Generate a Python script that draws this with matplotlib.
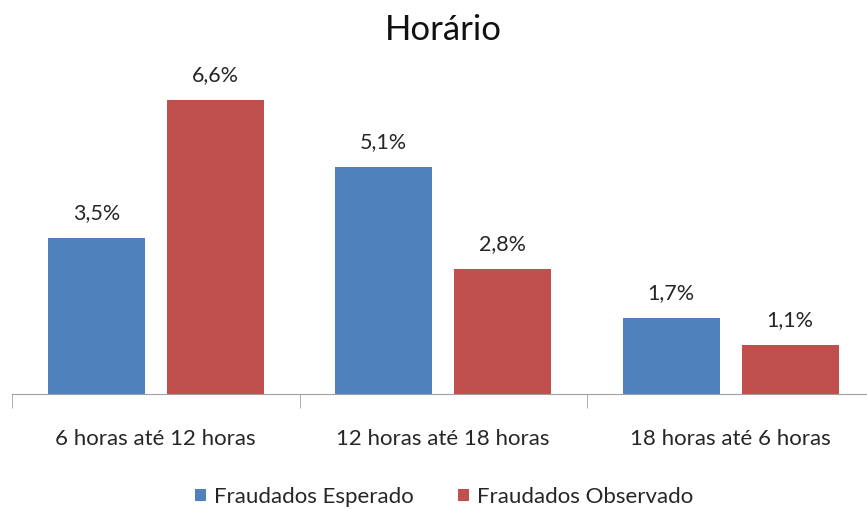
import matplotlib
matplotlib.use("Agg")
import matplotlib.pyplot as plt
import numpy as np

categories = ["6 horas até 12 horas", "12 horas até 18 horas", "18 horas até 6 horas"]
esperado = [3.5, 5.1, 1.7]
observado = [6.6, 2.8, 1.1]
series_names = ["Fraudados Esperado", "Fraudados Observado"]
title = "Horário"

plt.rcParams['font.family'] = ['Lato', 'DejaVu Sans']

W, H = 867, 509
fig = plt.figure(figsize=(W/100, H/100), dpi=100)
ax = fig.add_axes([12/W, 1 - 394/H, 862.5/W, 334/H])

blue = "#4F81BD"
red = "#C0504D"
txt = "#262626"
x = np.arange(len(categories))
bw = 0.337
off = 0.207
b1 = ax.bar(x - off, esperado, bw, color=blue, label=series_names[0])
b2 = ax.bar(x + off, observado, bw, color=red, label=series_names[1])

for bars, vals in ((b1, esperado), (b2, observado)):
    for r, v in zip(bars, vals):
        ax.annotate(f"{v:.1f}%".replace(".", ","), (r.get_x() + r.get_width()/2, v),
                    xytext=(0, 11), textcoords="offset points", ha="center", va="bottom",
                    fontsize=15.5, color=txt)

ax.set_xlim(-0.5, len(categories) - 0.5)
ax.set_ylim(0, 7.5)
ax.set_yticks([])
for s in ["top", "right", "left"]:
    ax.spines[s].set_visible(False)
ax.spines["bottom"].set_color("#a0a0a0")
ax.set_xticks(np.arange(len(categories) + 1) - 0.5, minor=True)
ax.tick_params(axis="x", which="minor", length=10, color="#a0a0a0", direction="out")
ax.tick_params(axis="x", which="major", length=0, pad=25, labelsize=16, labelcolor=txt)
ax.set_xticks(x)
ax.set_xticklabels(categories)

fig.text(443/W, 1 - 30/H, title, ha="center", va="center", fontsize=25, color="#111111")

fig.legend(handles=[b1, b2], labels=series_names, loc="center", bbox_to_anchor=(444/W, 1 - 497/H),
           ncol=2, frameon=False, fontsize=16, handlelength=0.5, handleheight=0.5,
           handletextpad=0.36, columnspacing=2.0, labelcolor=txt)

fig.savefig("out.png", dpi=100)
